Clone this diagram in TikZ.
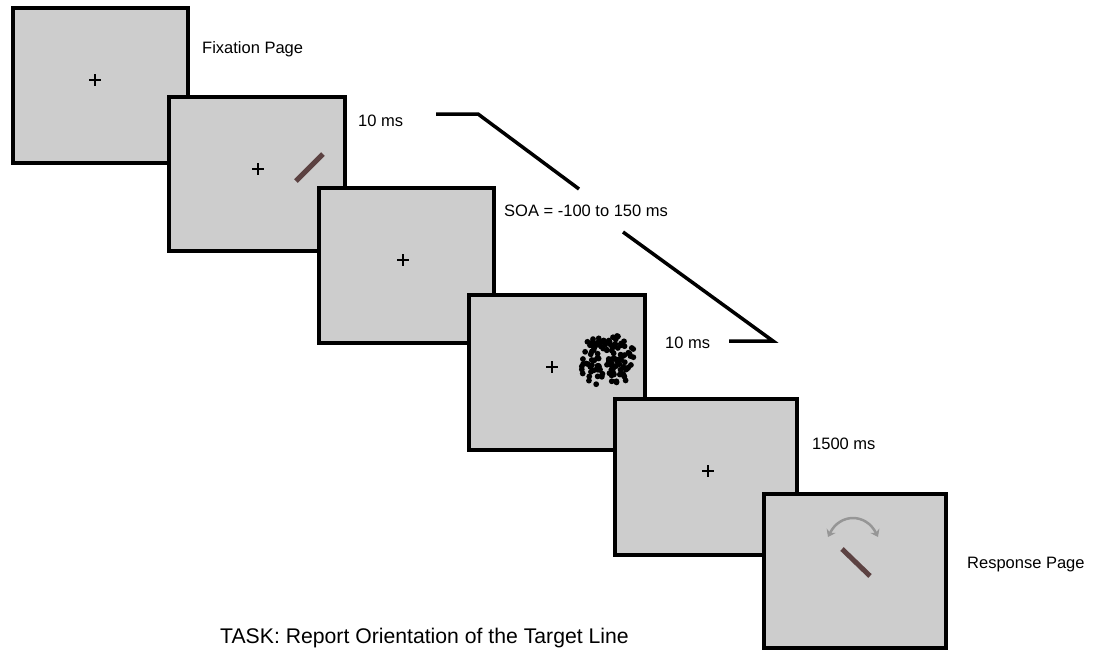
\documentclass[tikz,border=0pt]{standalone}
\usepackage{fontspec}
\setmainfont{Liberation Sans}
\usetikzlibrary{arrows.meta}
\definecolor{screengray}{RGB}{205,205,205}
\definecolor{linebrown}{RGB}{92,66,66}
\definecolor{arcgray}{RGB}{150,150,150}
\begin{document}
\begin{tikzpicture}[x=1pt,y=-1pt,
  screen/.style={draw=black, fill=screengray, line width=4pt, inner sep=0pt},
  lbl/.style={anchor=base west, inner sep=0pt, font=\fontsize{16.5}{19}\selectfont},
  tasklbl/.style={anchor=base west, inner sep=0pt, font=\fontsize{21.2}{25}\selectfont},
  bracket/.style={draw=black, line width=3.5pt},
  fixcross/.style={draw=black, line width=2.4pt},
  target/.style={draw=linebrown, line width=5pt},
  dot/.style={fill=black}]
\useasboundingbox (0,0) rectangle (1093,651);

% screens
\node[screen, minimum width=175pt, minimum height=155pt] (s1) at (100.5,85.5) {};
\draw[fixcross] (95,74) -- (95,86) (89,80) -- (101,80);

\node[screen, minimum width=176pt, minimum height=154pt] (s2) at (257,174) {};
\draw[fixcross] (258,163) -- (258,175) (252,169) -- (264,169);
\draw[target] (296,181) -- (323,154);

\node[screen, minimum width=175pt, minimum height=155pt] (s3) at (406.5,265.5) {};
\draw[fixcross] (403,254) -- (403,266) (397,260) -- (409,260);

\node[screen, minimum width=176pt, minimum height=155pt] (s4) at (557,372.5) {};
\draw[fixcross] (552,361) -- (552,373) (546,367) -- (558,367);
\pgfmathsetseed{11}
\foreach \i in {1,...,130} {
  \pgfmathsetmacro{\dx}{581+54*rnd}
  \pgfmathsetmacro{\dy}{335+50*rnd}
  \pgfmathsetmacro{\ok}{((\dx-608)/28)^2+((\dy-360)/26)^2<1.1 ? 1 : 0}
  \ifdim\ok pt>0.5pt
    \fill[dot] (\dx,\dy) circle (2.9pt);
  \fi
}

\node[screen, minimum width=182pt, minimum height=156pt] (s5) at (706,477) {};
\draw[fixcross] (708,465) -- (708,477) (702,471) -- (714,471);

\node[screen, minimum width=182pt, minimum height=154pt] (s6) at (855,571) {};
\draw[draw=arcgray, line width=2.5pt, {Stealth[length=7pt,width=10pt]}-{Stealth[length=7pt,width=10pt]}]
  (828,537) .. controls (840,513) and (866,513) .. (878,537);
\draw[target] (842,549) -- (870,576);

% labels
\node[lbl] (fix) at (202,53) {Fixation Page};
\node[lbl] (t1) at (358,126) {10 ms};
\node[lbl] (soa) at (504,216) {SOA = -100 to 150 ms};
\node[lbl] (t2) at (665,348) {10 ms};
\node[lbl] (t3) at (812,449) {1500 ms};
\node[lbl] (resp) at (967,568) {Response Page};
\node[tasklbl] (task) at (220,643) {TASK: Report Orientation of the Target Line};

% bracket connectors
\coordinate (a1) at (436,114);
\coordinate (a2) at (478,114);
\coordinate (a3) at (579,189);
\coordinate (b1) at (623,232);
\coordinate (b2) at (773,341);
\coordinate (b3) at (729,341);
\draw[bracket] (a1) -- (a2) -- (a3);
\draw[bracket] (b1) -- (b2) -- (b3);
\end{tikzpicture}
\end{document}
